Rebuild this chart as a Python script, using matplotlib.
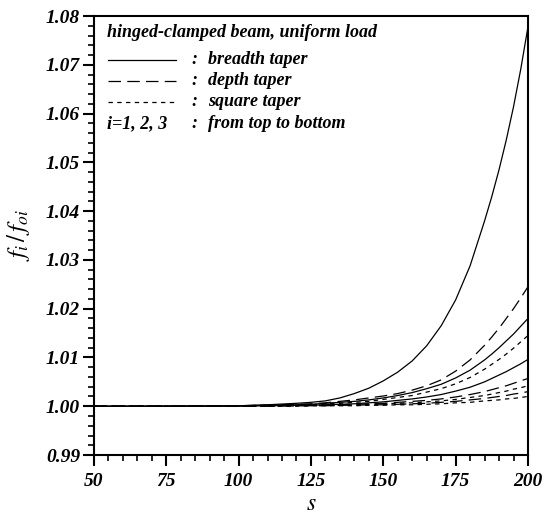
import matplotlib
matplotlib.use("Agg")
import matplotlib.pyplot as plt
from matplotlib.lines import Line2D
from matplotlib.ticker import MultipleLocator

plt.rcParams['font.family'] = ['Liberation Serif', 'DejaVu Serif']
plt.rcParams['mathtext.fontset'] = 'stix'

# slenderness ratio s
s = [50, 75, 100, 110, 120, 125, 130, 135, 140, 145, 150, 155, 160, 165, 170, 175, 180,
     185, 187.5, 190, 192.5, 195, 197.5, 200]

# breadth taper, i = 1, 2, 3
breadth_1 = [1.0000, 1.0000, 1.0001, 1.0003, 1.0006, 1.0008, 1.0011, 1.0017, 1.0026, 1.0037, 1.0052,
             1.0070, 1.0093, 1.0124, 1.0165, 1.0218, 1.0288,
             1.0380, 1.0430, 1.0485, 1.0546, 1.0614, 1.0691, 1.0778]
breadth_2 = [1.0000, 1.0000, 1.0001, 1.0002, 1.0003, 1.0004, 1.0006, 1.0008, 1.0010, 1.0013, 1.0017,
             1.0022, 1.0028, 1.0036, 1.0045, 1.0058, 1.0074,
             1.0095, 1.0107, 1.0120, 1.0134, 1.0148, 1.0164, 1.0180]
breadth_3 = [1.0000, 1.0000, 1.0000, 1.0001, 1.0002, 1.0002, 1.0003, 1.0004, 1.0005, 1.0007, 1.0009,
             1.0012, 1.0015, 1.0019, 1.0024, 1.0031, 1.0039,
             1.0050, 1.0057, 1.0064, 1.0071, 1.0079, 1.0087, 1.0096]

# depth taper, i = 1, 2, 3
depth_1 = [1.0000, 1.0000, 1.0001, 1.0002, 1.0004, 1.0005, 1.0007, 1.0010, 1.0013, 1.0017, 1.0021,
           1.0026, 1.0033, 1.0042, 1.0054, 1.0072, 1.0095,
           1.0125, 1.0142, 1.0160, 1.0180, 1.0200, 1.0222, 1.0245]
depth_2 = [1.0000, 1.0000, 1.0000, 1.0001, 1.0001, 1.0002, 1.0002, 1.0003, 1.0004, 1.0005, 1.0006,
           1.0008, 1.0010, 1.0012, 1.0015, 1.0019, 1.0024,
           1.0030, 1.0034, 1.0038, 1.0042, 1.0047, 1.0052, 1.0057]
depth_3 = [1.0000, 1.0000, 1.0000, 1.0000, 1.0001, 1.0001, 1.0001, 1.0002, 1.0002, 1.0003, 1.0003,
           1.0004, 1.0005, 1.0006, 1.0008, 1.0010, 1.0013,
           1.0016, 1.0018, 1.0020, 1.0022, 1.0025, 1.0027, 1.0030]

# square taper, i = 1, 2, 3
square_1 = [1.0000, 1.0000, 1.0001, 1.0002, 1.0002, 1.0003, 1.0005, 1.0006, 1.0008, 1.0010, 1.0014,
            1.0018, 1.0022, 1.0029, 1.0036, 1.0046, 1.0059,
            1.0076, 1.0086, 1.0096, 1.0107, 1.0119, 1.0132, 1.0145]
square_2 = [1.0000, 1.0000, 1.0000, 1.0000, 1.0001, 1.0001, 1.0002, 1.0002, 1.0003, 1.0004, 1.0005,
            1.0006, 1.0007, 1.0009, 1.0011, 1.0014, 1.0018,
            1.0022, 1.0025, 1.0028, 1.0031, 1.0035, 1.0038, 1.0042]
square_3 = [1.0000, 1.0000, 1.0000, 1.0000, 1.0000, 1.0001, 1.0001, 1.0001, 1.0001, 1.0002, 1.0002,
            1.0003, 1.0003, 1.0004, 1.0005, 1.0007, 1.0008,
            1.0011, 1.0012, 1.0013, 1.0015, 1.0016, 1.0018, 1.0020]

x_ticks = [50, 75, 100, 125, 150, 175, 200]
y_ticks = [0.99, 1.00, 1.01, 1.02, 1.03, 1.04, 1.05, 1.06, 1.07, 1.08]

solid = dict(color='black', lw=0.9, linestyle='-')
longdash = dict(color='black', lw=0.9, linestyle=(0, (10, 5)))
shortdash = dict(color='black', lw=0.9, linestyle=(0, (3.5, 3.5)))

fig = plt.figure(figsize=(5.46, 5.18), dpi=100)
ax = fig.add_axes([0.172, 0.1216, 0.795, 0.8474])

for ys in (breadth_1, breadth_2, breadth_3):
    ax.plot(s, ys, **solid)
for ys in (depth_1, depth_2, depth_3):
    ax.plot(s, ys, **longdash)
for ys in (square_1, square_2, square_3):
    ax.plot(s, ys, **shortdash)

ax.set_xlim(50, 200)
ax.set_ylim(0.99, 1.08)
ax.set_xticks(x_ticks)
ax.set_yticks(y_ticks)
ax.xaxis.set_minor_locator(MultipleLocator(5))
ax.yaxis.set_minor_locator(MultipleLocator(0.002))
ax.set_xticklabels([str(v) for v in x_ticks])
ax.set_yticklabels([f"{v:.2f}" for v in y_ticks])

for lab in ax.get_xticklabels() + ax.get_yticklabels():
    lab.set_fontsize(14)
    lab.set_fontstyle('italic')
    lab.set_fontweight('bold')

ax.tick_params(which='major', direction='out', length=8, width=1.5)
ax.tick_params(axis='y', which='major', pad=2)
ax.tick_params(axis='x', which='major', pad=5)
ax.tick_params(which='minor', direction='out', length=4, width=1.2)
ax.tick_params(top=False, right=False)
for sp in ax.spines.values():
    sp.set_linewidth(1.5)

ax.set_xlabel('$s$', fontsize=17, labelpad=3)
ax.set_ylabel(r'$f_i\,/\,f_{oi}$', fontsize=18, labelpad=10)

# legend block drawn by hand, as in the original figure
txt = dict(transform=ax.transAxes, fontsize=13, fontstyle='italic', fontweight='bold', va='center')
ax.text(0.03, 0.962, 'hinged-clamped beam, uniform load', **txt)
rows = [(0.900, solid, 'breadth taper'),
        (0.853, longdash, 'depth taper'),
        (0.805, shortdash, 'square taper')]
for yy, style, label in rows:
    ax.add_line(Line2D([0.032, 0.19], [yy, yy], transform=ax.transAxes, **style))
    ax.text(0.225, yy, ':', **txt)
    ax.text(0.262, yy, label, **txt)
ax.text(0.03, 0.755, 'i=1, 2, 3', **txt)
ax.text(0.225, 0.755, ':', **txt)
ax.text(0.262, 0.755, 'from top to bottom', **txt)

fig.savefig('out.png', dpi=100)
